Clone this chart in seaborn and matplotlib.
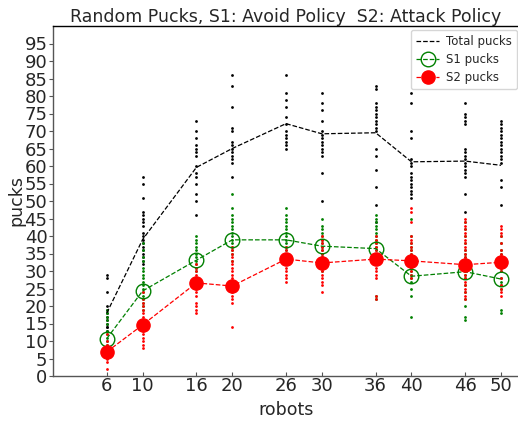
import matplotlib
matplotlib.use("Agg")
import matplotlib.pyplot as plt
import seaborn as sns
import pandas as pd

sns.set_theme(style="white")
plt.rcParams["font.family"] = ["DejaVu Sans"]

robots = [6, 10, 16, 20, 26, 30, 36, 40, 46, 50]

# Average pucks per robot count
total_mean = [18, 39, 59.6, 65, 72.1, 69.2, 69.5, 61.2, 61.4, 60.2]
s1_mean = [10.7, 24.3, 33.1, 38.9, 38.9, 37.1, 36.4, 28.5, 29.8, 27.7]
s2_mean = [6.9, 14.6, 26.6, 25.7, 33.4, 32.3, 33.4, 32.9, 31.8, 32.5]

# Individual trial results per robot count
total_trials = {
    6: [29, 28, 24, 20, 19, 18, 17, 16, 15, 14, 14, 13],
    10: [57, 55, 51, 47, 46, 45, 44, 43, 41, 40, 39, 38, 37, 36, 35, 34, 33, 32],
    16: [73, 70, 68, 66, 65, 64, 63, 60, 58, 57, 55, 52, 50, 46],
    20: [86, 83, 77, 71, 70, 67, 66, 65, 64, 63, 62, 61, 57],
    26: [86, 81, 79, 77, 74, 72, 70, 69, 68, 67, 66, 65],
    30: [81, 78, 76, 73, 70, 69, 68, 67, 66, 65, 64, 63, 58, 50],
    36: [83, 82, 78, 77, 76, 75, 74, 73, 72, 71, 70, 65, 63, 59, 54, 49, 44],
    40: [81, 78, 70, 68, 62, 61, 60, 58, 57, 56, 55, 54, 53, 52, 51],
    46: [78, 75, 74, 73, 72, 65, 64, 63, 62, 61, 60, 59, 58, 57, 52, 47],
    50: [73, 72, 71, 70, 69, 68, 67, 66, 65, 64, 63, 62, 61, 56, 54, 49],
}
s1_trials = {
    6: [19, 18, 17, 16, 15, 13, 12, 11, 10, 9],
    10: [38, 36, 34, 33, 31, 30, 29, 28, 27, 26, 25, 24, 23, 22, 21, 20, 19],
    16: [40, 39, 38, 37, 36, 35, 34, 33, 32, 31, 30],
    20: [52, 48, 46, 45, 44, 43, 42, 41, 40, 39, 38, 37, 36, 35, 33],
    26: [48, 46, 45, 44, 43, 42, 41, 40, 39, 38, 37, 36, 35],
    30: [45, 43, 42, 41, 40, 39, 38, 37, 36, 35, 34, 32, 30],
    36: [46, 45, 44, 43, 42, 41, 40, 39, 38, 37, 36, 35, 34, 33, 32, 23, 22],
    40: [45, 40, 38, 37, 36, 35, 34, 32, 30, 29, 28, 27, 25, 23, 17],
    46: [44, 42, 40, 38, 36, 35, 34, 33, 32, 31, 30, 29, 28, 26, 24, 22, 20, 17, 16],
    50: [40, 38, 36, 35, 34, 31, 30, 28, 27, 26, 25, 19, 18],
}
s2_trials = {
    6: [12, 10, 9, 8, 7, 6, 5, 4, 2],
    10: [24, 22, 21, 20, 19, 18, 17, 16, 15, 14, 13, 12, 11, 10, 9, 8],
    16: [32, 31, 30, 29, 28, 27, 26, 25, 24, 23, 21, 20, 19, 18],
    20: [37, 36, 35, 34, 33, 32, 31, 30, 29, 28, 27, 26, 25, 24, 23, 22, 21, 14],
    26: [37, 36, 35, 34, 33, 32, 31, 30, 29, 28, 27],
    30: [40, 39, 38, 37, 36, 35, 34, 33, 32, 31, 30, 29, 28, 27, 26, 24],
    36: [40, 39, 38, 37, 36, 35, 34, 33, 32, 31, 30, 29, 28, 23, 22],
    40: [48, 47, 44, 40, 39, 38, 37, 36, 35, 34, 33, 32, 31, 30, 29, 28],
    46: [45, 44, 43, 42, 41, 40, 39, 38, 37, 36, 35, 34, 33, 32, 31, 30, 29, 28,
         27, 26, 25, 24, 23, 22],
    50: [43, 42, 41, 40, 38, 36, 35, 34, 33, 32, 31, 30, 28, 26, 25, 24, 23],
}


def to_frame(trials):
    rows = [(n, v) for n, vals in trials.items() for v in vals]
    return pd.DataFrame(rows, columns=["robots", "pucks"])


fig = plt.figure(figsize=(5.18, 4.21), dpi=100)
ax = fig.add_axes([53 / 518, 45 / 421, 466 / 518, 350 / 421])

dot_kw = dict(s=4, linewidth=0, legend=False, ax=ax)
sns.scatterplot(data=to_frame(total_trials), x="robots", y="pucks", color="black", **dot_kw)
sns.scatterplot(data=to_frame(s1_trials), x="robots", y="pucks", color="green", **dot_kw)
sns.scatterplot(data=to_frame(s2_trials), x="robots", y="pucks", color="red", **dot_kw)

ax.plot(robots, total_mean, color="black", linestyle="--", linewidth=0.9,
        label="Total pucks")
ax.plot(robots, s1_mean, color="green", linestyle="--", linewidth=0.9,
        marker="o", markersize=10.5, markerfacecolor="none",
        markeredgecolor="green", markeredgewidth=1.0, label="S1 pucks")
ax.plot(robots, s2_mean, color="red", linestyle="--", linewidth=0.9,
        marker="o", markersize=9.5, markerfacecolor="red",
        markeredgecolor="red", label="S2 pucks")

ax.set_xlim(0, 52)
ax.set_ylim(0, 100)
ax.set_xticks(robots)
ax.set_yticks(range(0, 100, 5))
ax.tick_params(axis="both", labelsize=13, pad=1)
ax.tick_params(axis="y", direction="out", length=3, width=0.8, color="#555555", left=True)
ax.tick_params(axis="x", direction="in", length=3, width=0.8, color="#555555", bottom=True)
for side in ["left", "bottom", "top", "right"]:
    ax.spines[side].set_color("#555555" if side in ("left", "bottom") else "black")
    ax.spines[side].set_linewidth(1.0)

ax.set_xlabel("robots", fontsize=12.5, labelpad=4)
ax.set_ylabel("pucks", fontsize=12.5, labelpad=-1)
ax.set_title("Random Pucks, S1: Avoid Policy  S2: Attack Policy", fontsize=12.5, pad=3)

leg = ax.legend(loc="upper right", bbox_to_anchor=(517 / 518, 391 / 421),
                bbox_transform=fig.transFigure, fontsize=8.5, frameon=True,
                borderaxespad=0, handlelength=2.0, labelspacing=0.45,
                borderpad=0.4, handletextpad=0.6)
leg.get_frame().set_edgecolor("#cccccc")

fig.savefig("out.png", dpi=100)
